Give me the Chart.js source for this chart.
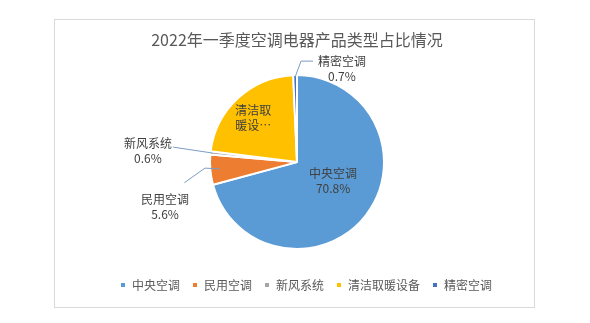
<!DOCTYPE html>
<html>
<head>
<meta charset="utf-8">
<script src="https://cdn.jsdelivr.net/npm/chart.js@4/dist/chart.umd.min.js"></script>
<style>
  html, body { margin: 0; padding: 0; background: #fff; }
  .wrap { position: relative; width: 590px; height: 323px; }
  .frame { position: absolute; left: 54px; top: 19px; width: 479px; height: 287px; border: 1px solid #d9d9d9; }
  canvas { position: absolute; left: 0; top: 0; }
</style>
</head>
<body>
<div class="wrap">
  <div class="frame"></div>
  <canvas id="pieChart" width="590" height="323"></canvas>
</div>
<script>
const categories = ['中央空调', '民用空调', '新风系统', '清洁取暖设备', '精密空调'];
const shares = [70.8, 5.6, 0.6, 22.3, 0.7];
const sliceColors = ['#5b9bd5', '#ed7d31', '#a5a5a5', '#ffc000', '#4472c4'];

const FONT = '"Noto Sans CJK SC", "Noto Sans", sans-serif';

// where each data label sits, in units of the pie radius from its centre;
// lead = elbow points of the leader line, tip = how deep the line reaches into the slice
const labelPlacement = [
  { pos: [0.42, 0.21] },
  { pos: [-1.535, 0.51], lead: [[-1.31, 0.24], [-1.07, 0.07]], tip: 0.9 },
  { pos: [-1.733, -0.14], lead: [[-1.44, -0.174]], tip: 0.99 },
  { pos: [-0.51, -0.52], lines: ['清洁取', '暖设…'] },
  { pos: [0.523, -1.093], lead: [[0.186, -1.174], [0.047, -1.174]], tip: 0.99 }
];

const sliceLabels = {
  id: 'sliceLabels',
  afterDatasetsDraw(chart) {
    const ctx = chart.ctx;
    const arcs = chart.getDatasetMeta(0).data;
    ctx.save();
    arcs.forEach((arc, i) => {
      const p = arc.getProps(['x', 'y', 'outerRadius', 'startAngle', 'endAngle'], true);
      const r = p.outerRadius - 1;
      const place = labelPlacement[i];
      const lx = p.x + place.pos[0] * r;
      const ly = p.y + place.pos[1] * r;

      if (place.lead) {
        const mid = (p.startAngle + p.endAngle) / 2;
        ctx.beginPath();
        place.lead.forEach((pt, k) => {
          const px = p.x + pt[0] * r, py = p.y + pt[1] * r;
          if (k === 0) ctx.moveTo(px, py); else ctx.lineTo(px, py);
        });
        ctx.lineTo(p.x + Math.cos(mid) * r * place.tip, p.y + Math.sin(mid) * r * place.tip);
        ctx.strokeStyle = '#7b9cc4';
        ctx.lineWidth = 1;
        ctx.stroke();
      }

      const lines = place.lines || [categories[i], shares[i].toFixed(1) + '%'];
      ctx.fillStyle = '#404040';
      ctx.textAlign = 'center';
      ctx.textBaseline = 'middle';
      ctx.font = '12px ' + FONT;
      ctx.fillText(lines[0], lx, ly - 7);
      ctx.fillText(lines[1], lx, ly + 8);
    });
    ctx.restore();
  }
};

// nudge the legend row to the right of the pie centre
const legendShift = {
  id: 'legendShift',
  afterLayout(chart) {
    chart.legend.left += 9;
    chart.legend.right += 9;
  }
};

new Chart(document.getElementById('pieChart'), {
  type: 'pie',
  data: {
    labels: categories,
    datasets: [{
      data: shares,
      backgroundColor: sliceColors,
      borderColor: '#ffffff',
      borderWidth: 2
    }]
  },
  options: {
    responsive: false,
    animation: false,
    radius: 87,
    layout: { padding: { top: 20, bottom: 22, left: 58, right: 54 } },
    plugins: {
      title: {
        display: true,
        text: '2022年一季度空调电器产品类型占比情况',
        color: '#595959',
        font: { family: FONT, size: 16, weight: 'normal' },
        padding: { top: 10.4, bottom: 7.6 }
      },
      legend: {
        position: 'bottom',
        labels: {
          color: '#595959',
          font: { family: FONT, size: 12 },
          boxWidth: 6,
          boxHeight: 6,
          padding: 12
        }
      },
      tooltip: { enabled: false }
    }
  },
  plugins: [sliceLabels, legendShift]
});
</script>
</body>
</html>
